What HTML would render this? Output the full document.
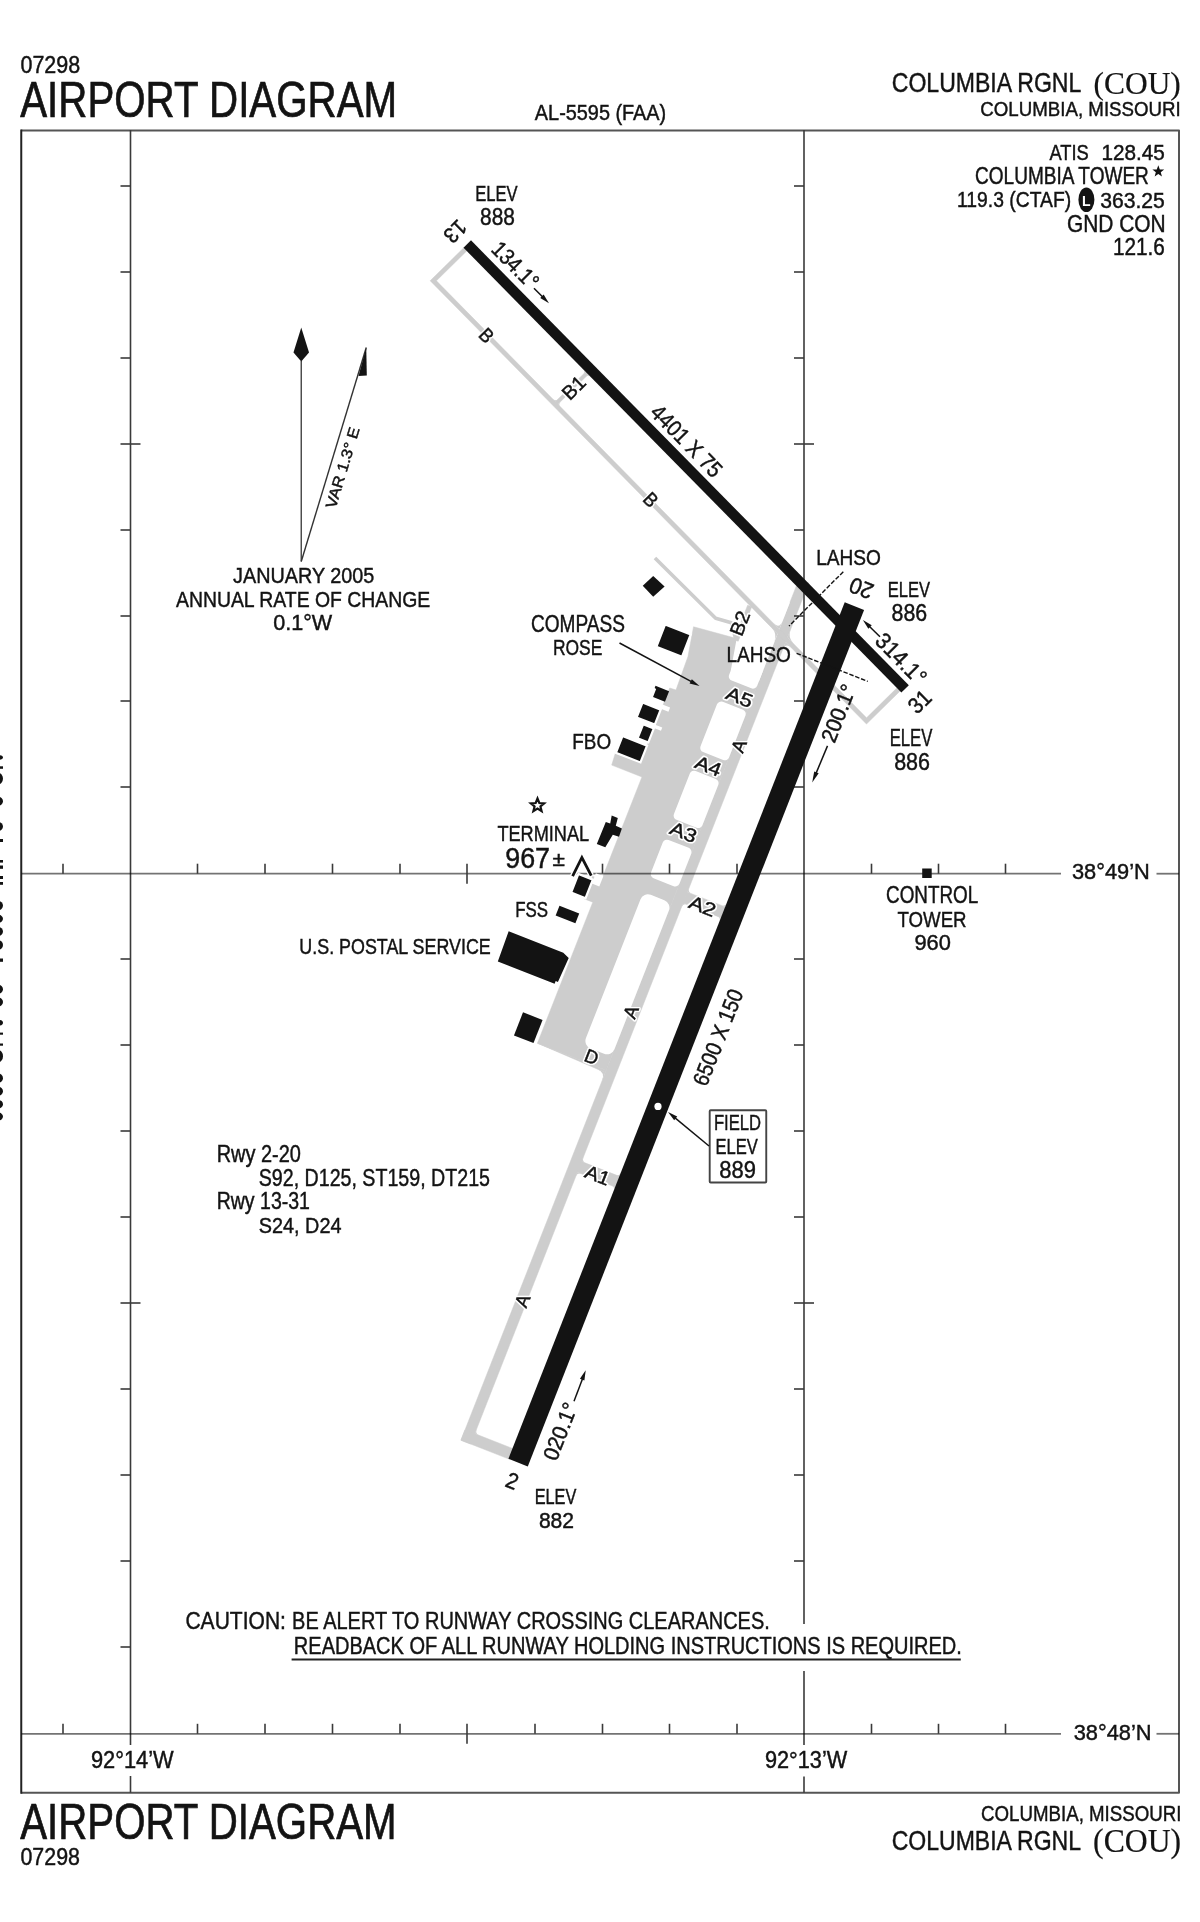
<!DOCTYPE html>
<html><head><meta charset="utf-8"><style>
html,body{margin:0;padding:0;background:#fff;}
svg{display:block;will-change:transform;}
</style></head><body>
<svg width="1200" height="1922" viewBox="0 0 1200 1922">
<rect width="1200" height="1922" fill="#fff"/>
<text x="20.46" y="73.30" font-size="24.13" font-family='"Liberation Sans", sans-serif' textLength="59.77" lengthAdjust="spacingAndGlyphs" fill="#131313" stroke="#131313" stroke-width="0.45" >07298</text>
<text x="20.22" y="116.70" font-size="49.42" font-family='"Liberation Sans", sans-serif' textLength="376.87" lengthAdjust="spacingAndGlyphs" fill="#131313" stroke="#131313" stroke-width="0.7" >AIRPORT DIAGRAM</text>
<text x="534.86" y="120.10" font-size="21.37" font-family='"Liberation Sans", sans-serif' textLength="131.36" lengthAdjust="spacingAndGlyphs" fill="#131313" stroke="#131313" stroke-width="0.45" >AL-5595 (FAA)</text>
<text x="891.74" y="92.10" font-size="27.91" font-family='"Liberation Sans", sans-serif' textLength="189.62" lengthAdjust="spacingAndGlyphs" fill="#131313" stroke="#131313" stroke-width="0.45" >COLUMBIA RGNL</text>
<text x="1093.62" y="93.75" font-size="32.45" font-family='"Liberation Serif", serif' textLength="87.16" lengthAdjust="spacingAndGlyphs" fill="#131313" stroke="#131313" stroke-width="0.2" >(COU)</text>
<text x="980.35" y="115.60" font-size="20.49" font-family='"Liberation Sans", sans-serif' textLength="200.37" lengthAdjust="spacingAndGlyphs" fill="#131313" stroke="#131313" stroke-width="0.45" >COLUMBIA, MISSOURI</text>
<text x="20.22" y="1839.30" font-size="49.42" font-family='"Liberation Sans", sans-serif' textLength="376.37" lengthAdjust="spacingAndGlyphs" fill="#131313" stroke="#131313" stroke-width="0.7" >AIRPORT DIAGRAM</text>
<text x="20.46" y="1865.00" font-size="23.26" font-family='"Liberation Sans", sans-serif' textLength="59.46" lengthAdjust="spacingAndGlyphs" fill="#131313" stroke="#131313" stroke-width="0.45" >07298</text>
<text x="981.05" y="1820.80" font-size="21.51" font-family='"Liberation Sans", sans-serif' textLength="200.37" lengthAdjust="spacingAndGlyphs" fill="#131313" stroke="#131313" stroke-width="0.45" >COLUMBIA, MISSOURI</text>
<text x="891.74" y="1849.60" font-size="28.49" font-family='"Liberation Sans", sans-serif' textLength="189.32" lengthAdjust="spacingAndGlyphs" fill="#131313" stroke="#131313" stroke-width="0.45" >COLUMBIA RGNL</text>
<text x="1093.11" y="1851.50" font-size="32.84" font-family='"Liberation Serif", serif' textLength="87.98" lengthAdjust="spacingAndGlyphs" fill="#131313" stroke="#131313" stroke-width="0.2" >(COU)</text>
<text x="1049.47" y="159.50" font-size="22.53" font-family='"Liberation Sans", sans-serif' textLength="39.35" lengthAdjust="spacingAndGlyphs" fill="#131313" stroke="#131313" stroke-width="0.45" >ATIS</text>
<text x="1101.42" y="159.50" font-size="22.53" font-family='"Liberation Sans", sans-serif' textLength="63.45" lengthAdjust="spacingAndGlyphs" fill="#131313" stroke="#131313" stroke-width="0.45" >128.45</text>
<text x="975.04" y="183.50" font-size="23.26" font-family='"Liberation Sans", sans-serif' textLength="173.83" lengthAdjust="spacingAndGlyphs" fill="#131313" stroke="#131313" stroke-width="0.45" >COLUMBIA TOWER</text>
<text x="957.07" y="207.00" font-size="22.53" font-family='"Liberation Sans", sans-serif' textLength="114.10" lengthAdjust="spacingAndGlyphs" fill="#131313" stroke="#131313" stroke-width="0.45" >119.3 (CTAF)</text>
<text x="1100.19" y="207.50" font-size="22.53" font-family='"Liberation Sans", sans-serif' textLength="64.69" lengthAdjust="spacingAndGlyphs" fill="#131313" stroke="#131313" stroke-width="0.45" >363.25</text>
<text x="1066.95" y="231.50" font-size="23.26" font-family='"Liberation Sans", sans-serif' textLength="98.76" lengthAdjust="spacingAndGlyphs" fill="#131313" stroke="#131313" stroke-width="0.45" >GND CON</text>
<text x="1112.92" y="255.00" font-size="23.26" font-family='"Liberation Sans", sans-serif' textLength="52.00" lengthAdjust="spacingAndGlyphs" fill="#131313" stroke="#131313" stroke-width="0.45" >121.6</text>
<ellipse cx="1086.4" cy="199.8" rx="8" ry="12.3" fill="#131313"/>
<text x="1086.4" y="205.5" font-size="14" font-family='"Liberation Sans", sans-serif' font-weight="bold" fill="#fff" text-anchor="middle">L</text>
<polygon points="1158.30,165.30 1159.83,169.40 1164.20,169.58 1160.77,172.30 1161.94,176.52 1158.30,174.10 1154.66,176.52 1155.83,172.30 1152.40,169.58 1156.77,169.40" fill="#131313" />
<ellipse cx="-2" cy="757.5" rx="5" ry="2.5" fill="#131313"/>
<rect x="0" y="766.3" width="3" height="2.5" fill="#131313"/>
<ellipse cx="-2" cy="778.6" rx="5" ry="5.9" fill="#131313"/>
<ellipse cx="-2" cy="801.3" rx="5" ry="4.7" fill="#131313"/>
<ellipse cx="-2" cy="826.5" rx="5" ry="4.5" fill="#131313"/>
<rect x="0" y="839.0" width="3" height="3.0" fill="#131313"/>
<rect x="0" y="860.0" width="3" height="2.6" fill="#131313"/>
<rect x="0" y="865.5" width="3" height="3.3" fill="#131313"/>
<rect x="0" y="876.0" width="3" height="3.0" fill="#131313"/>
<rect x="0" y="882.0" width="3" height="2.8" fill="#131313"/>
<ellipse cx="-2" cy="905.6" rx="5" ry="4.8" fill="#131313"/>
<ellipse cx="-2" cy="918.8" rx="5" ry="4.0" fill="#131313"/>
<ellipse cx="-2" cy="931.5" rx="5" ry="4.5" fill="#131313"/>
<ellipse cx="-2" cy="945.0" rx="5" ry="5.0" fill="#131313"/>
<rect x="0" y="958.5" width="3" height="3.3" fill="#131313"/>
<ellipse cx="-2" cy="989.3" rx="5" ry="4.6" fill="#131313"/>
<ellipse cx="-2" cy="1002.0" rx="5" ry="4.6" fill="#131313"/>
<ellipse cx="-2" cy="1022.7" rx="5" ry="2.9" fill="#131313"/>
<rect x="0" y="1032.6" width="3" height="2.1" fill="#131313"/>
<rect x="0" y="1043.5" width="3" height="2.2" fill="#131313"/>
<ellipse cx="-2" cy="1056.2" rx="5" ry="6.2" fill="#131313"/>
<ellipse cx="-2" cy="1078.2" rx="5" ry="4.8" fill="#131313"/>
<ellipse cx="-2" cy="1091.3" rx="5" ry="4.7" fill="#131313"/>
<ellipse cx="-2" cy="1104.2" rx="5" ry="4.4" fill="#131313"/>
<ellipse cx="-2" cy="1116.6" rx="5" ry="4.1" fill="#131313"/>
<line x1="301.25" y1="361.00" x2="301.25" y2="561.50" stroke="#444" stroke-width="1.4" />
<polygon points="301.25,327.50 309.00,352.50 301.25,361.50 293.50,352.50" fill="#131313" />
<line x1="301.25" y1="561.50" x2="366.25" y2="347.50" stroke="#333" stroke-width="1.4" />
<polygon points="366.25,347.50 366.80,375.50 358.50,376.00" fill="#131313" />
<g transform="translate(342.50,468.00) rotate(-73.07)"><text x="-41.57" y="5.25" font-size="15.26" font-family='"Liberation Sans", sans-serif' textLength="83.78" lengthAdjust="spacingAndGlyphs" fill="#131313" stroke="#131313" stroke-width="0.45">VAR 1.3° E</text></g>
<text x="233.09" y="582.75" font-size="22.89" font-family='"Liberation Sans", sans-serif' textLength="141.23" lengthAdjust="spacingAndGlyphs" fill="#131313" stroke="#131313" stroke-width="0.45" >JANUARY 2005</text>
<text x="175.96" y="606.60" font-size="22.82" font-family='"Liberation Sans", sans-serif' textLength="254.36" lengthAdjust="spacingAndGlyphs" fill="#131313" stroke="#131313" stroke-width="0.45" >ANNUAL RATE OF CHANGE</text>
<text x="273.16" y="630.40" font-size="22.82" font-family='"Liberation Sans", sans-serif' textLength="59.02" lengthAdjust="spacingAndGlyphs" fill="#131313" stroke="#131313" stroke-width="0.45" >0.1°W</text>
<polygon points="460.95,1440.21 799.00,579.20 808.77,583.03 470.72,1444.05" fill="#cdcdcd"  stroke="#cdcdcd" stroke-width="0.5" stroke-linejoin="round"/>
<polygon points="460.95,1440.21 465.04,1429.79 513.82,1448.94 509.72,1459.36" fill="#cdcdcd"  stroke="#cdcdcd" stroke-width="0.5" stroke-linejoin="round"/>
<path d="M474.81,1433.62 L476.64,1428.97 Q474.81,1433.62 479.47,1435.45 Z" fill="#cdcdcd"/>
<polygon points="537.43,1043.20 592.80,902.18 583.77,898.63 592.54,876.29 601.57,879.84 641.95,776.98 611.70,765.11 615.52,752.64 622.47,736.03 647.05,745.68 669.70,687.97 675.99,690.01 687.98,656.47 693.53,626.74 736.70,638.53 770.49,651.80 606.22,1070.21" fill="#cdcdcd"  stroke="#cdcdcd" stroke-width="0.5" stroke-linejoin="round"/>
<polygon points="537.43,1043.20 605.30,1072.53 606.22,1070.21" fill="#cdcdcd"  stroke="#cdcdcd" stroke-width="0.5" stroke-linejoin="round"/>
<path d="M605.38,1072.35 L602.09,1080.73 Q605.38,1072.35 597.00,1069.06 Z" fill="#cdcdcd"/>
<rect x="-12.00" y="-15.05" width="24.00" height="30.10" rx="4.5" fill="#fff" transform="translate(745.89,673.29) rotate(-68.56)"/>
<polygon points="730.78,670.59 736.70,638.53 756.07,589.20 789.86,602.47 758.80,681.59" fill="#fff" />
<rect x="-27.00" y="-15.30" width="54.00" height="30.60" rx="4.5" fill="#fff" transform="translate(723.00,730.91) rotate(-68.56)"/>
<rect x="-26.25" y="-15.30" width="52.50" height="30.60" rx="4.5" fill="#fff" transform="translate(696.12,799.38) rotate(-68.56)"/>
<rect x="-20.55" y="-15.30" width="41.10" height="30.60" rx="4.5" fill="#fff" transform="translate(671.12,863.05) rotate(-68.56)"/>
<rect x="-82.50" y="-15.30" width="165.00" height="30.60" rx="8" fill="#fff" transform="translate(627.43,974.33) rotate(-68.56)"/>
<polygon points="647.52,703.43 649.16,699.24 670.11,707.46 668.46,711.65" fill="#fff" />
<polygon points="637.23,721.42 638.51,718.16 662.25,727.48 660.97,730.73" fill="#fff" />
<polygon points="682.74,902.68 686.97,891.89 726.44,907.38 722.20,918.18" fill="#cdcdcd"  stroke="#cdcdcd" stroke-width="0.5" stroke-linejoin="round"/>
<path d="M687.44,892.07 L689.27,887.41 Q687.44,892.07 692.09,893.90 Z" fill="#cdcdcd"/>
<path d="M683.20,902.87 L681.37,907.52 Q683.20,902.87 687.85,904.69 Z" fill="#cdcdcd"/>
<path d="M725.14,906.87 L726.60,903.15 Q725.14,906.87 721.42,905.41 Z" fill="#cdcdcd"/>
<path d="M720.90,917.67 L719.44,921.39 Q720.90,917.67 717.18,916.21 Z" fill="#cdcdcd"/>
<polygon points="576.97,1172.06 581.17,1161.36 620.64,1176.86 616.44,1187.56" fill="#cdcdcd"  stroke="#cdcdcd" stroke-width="0.5" stroke-linejoin="round"/>
<path d="M581.64,1161.54 L583.47,1156.89 Q581.64,1161.54 586.29,1163.37 Z" fill="#cdcdcd"/>
<path d="M577.44,1172.25 L575.61,1176.90 Q577.44,1172.25 582.09,1174.07 Z" fill="#cdcdcd"/>
<path d="M619.34,1176.34 L620.80,1172.62 Q619.34,1176.34 615.61,1174.88 Z" fill="#cdcdcd"/>
<path d="M615.13,1187.05 L613.67,1190.77 Q615.13,1187.05 611.41,1185.59 Z" fill="#cdcdcd"/>
<polygon points="734.11,639.67 747.63,605.22 751.73,606.83 738.21,641.27" fill="#cdcdcd"  stroke="#cdcdcd" stroke-width="0.5" stroke-linejoin="round"/>
<polygon points="463.83,247.65 430.19,280.76 866.48,724.08 900.12,690.97 897.03,687.83 866.53,717.85 436.41,280.81 466.91,250.79" fill="#cdcdcd"  stroke="#cdcdcd" stroke-width="0.5" stroke-linejoin="round"/>
<polygon points="585.88,371.66 588.40,374.23 556.33,405.80 553.80,403.23" fill="#cdcdcd"  stroke="#cdcdcd" stroke-width="0.5" stroke-linejoin="round"/>
<path d="M557.90,404.25 L560.70,407.10 Q557.90,404.25 560.75,401.45 Z" fill="#cdcdcd"/>
<path d="M555.37,401.69 L552.57,398.84 Q555.37,401.69 558.22,398.88 Z" fill="#cdcdcd"/>
<path d="M588.19,374.44 L590.64,376.94 Q588.19,374.44 585.69,376.90 Z" fill="#cdcdcd"/>
<path d="M585.66,371.88 L583.21,369.38 Q585.66,371.88 583.17,374.33 Z" fill="#cdcdcd"/>
<polyline points="654.96,558.05 715.65,618.29 731.30,622.70 736.16,640.47" fill="none" stroke="#cdcdcd" stroke-width="3.6" stroke-linejoin="round"/>
<path d="M779.34,629.26 L782.63,620.89 Q779.34,629.26 773.03,622.85 Z" fill="#cdcdcd"/>
<path d="M777.58,633.75 L774.29,642.12 Q777.58,633.75 771.27,627.33 Z" fill="#cdcdcd"/>
<path d="M787.41,637.46 L790.70,629.08 Q787.41,637.46 793.72,643.87 Z" fill="#cdcdcd"/>
<path d="M785.65,641.94 L782.36,650.32 Q785.65,641.94 791.96,648.36 Z" fill="#cdcdcd"/>
<path d="M21.25,130.4 H1179 V1792.75 H21.25" fill="none" stroke="#555" stroke-width="2" stroke-linejoin="round"/>
<line x1="21.25" y1="129.4" x2="21.25" y2="1793.75" stroke="#222" stroke-width="2"/>
<line x1="130.50" y1="130.00" x2="130.50" y2="1745.00" stroke="#3a3a3a" stroke-width="1.6" />
<line x1="130.50" y1="1776.00" x2="130.50" y2="1792.75" stroke="#3a3a3a" stroke-width="1.6" />
<line x1="804.00" y1="130.00" x2="804.00" y2="1624.00" stroke="#3a3a3a" stroke-width="1.6" />
<line x1="804.00" y1="1671.00" x2="804.00" y2="1745.00" stroke="#3a3a3a" stroke-width="1.6" />
<line x1="804.00" y1="1776.50" x2="804.00" y2="1792.75" stroke="#3a3a3a" stroke-width="1.6" />
<line x1="120.50" y1="186.00" x2="130.50" y2="186.00" stroke="#3a3a3a" stroke-width="1.6" />
<line x1="120.50" y1="272.00" x2="130.50" y2="272.00" stroke="#3a3a3a" stroke-width="1.6" />
<line x1="120.50" y1="358.00" x2="130.50" y2="358.00" stroke="#3a3a3a" stroke-width="1.6" />
<line x1="120.50" y1="444.00" x2="140.50" y2="444.00" stroke="#3a3a3a" stroke-width="1.6" />
<line x1="120.50" y1="530.00" x2="130.50" y2="530.00" stroke="#3a3a3a" stroke-width="1.6" />
<line x1="120.50" y1="616.00" x2="130.50" y2="616.00" stroke="#3a3a3a" stroke-width="1.6" />
<line x1="120.50" y1="701.00" x2="130.50" y2="701.00" stroke="#3a3a3a" stroke-width="1.6" />
<line x1="120.50" y1="787.00" x2="130.50" y2="787.00" stroke="#3a3a3a" stroke-width="1.6" />
<line x1="120.50" y1="959.00" x2="130.50" y2="959.00" stroke="#3a3a3a" stroke-width="1.6" />
<line x1="120.50" y1="1045.00" x2="130.50" y2="1045.00" stroke="#3a3a3a" stroke-width="1.6" />
<line x1="120.50" y1="1131.00" x2="130.50" y2="1131.00" stroke="#3a3a3a" stroke-width="1.6" />
<line x1="120.50" y1="1217.00" x2="130.50" y2="1217.00" stroke="#3a3a3a" stroke-width="1.6" />
<line x1="120.50" y1="1303.00" x2="140.50" y2="1303.00" stroke="#3a3a3a" stroke-width="1.6" />
<line x1="120.50" y1="1389.00" x2="130.50" y2="1389.00" stroke="#3a3a3a" stroke-width="1.6" />
<line x1="120.50" y1="1475.00" x2="130.50" y2="1475.00" stroke="#3a3a3a" stroke-width="1.6" />
<line x1="120.50" y1="1561.00" x2="130.50" y2="1561.00" stroke="#3a3a3a" stroke-width="1.6" />
<line x1="120.50" y1="1647.00" x2="130.50" y2="1647.00" stroke="#3a3a3a" stroke-width="1.6" />
<line x1="794.00" y1="186.00" x2="804.00" y2="186.00" stroke="#3a3a3a" stroke-width="1.6" />
<line x1="794.00" y1="272.00" x2="804.00" y2="272.00" stroke="#3a3a3a" stroke-width="1.6" />
<line x1="794.00" y1="358.00" x2="804.00" y2="358.00" stroke="#3a3a3a" stroke-width="1.6" />
<line x1="794.00" y1="444.00" x2="814.00" y2="444.00" stroke="#3a3a3a" stroke-width="1.6" />
<line x1="794.00" y1="530.00" x2="804.00" y2="530.00" stroke="#3a3a3a" stroke-width="1.6" />
<line x1="794.00" y1="616.00" x2="804.00" y2="616.00" stroke="#3a3a3a" stroke-width="1.6" />
<line x1="794.00" y1="701.00" x2="804.00" y2="701.00" stroke="#3a3a3a" stroke-width="1.6" />
<line x1="794.00" y1="787.00" x2="804.00" y2="787.00" stroke="#3a3a3a" stroke-width="1.6" />
<line x1="794.00" y1="959.00" x2="804.00" y2="959.00" stroke="#3a3a3a" stroke-width="1.6" />
<line x1="794.00" y1="1045.00" x2="804.00" y2="1045.00" stroke="#3a3a3a" stroke-width="1.6" />
<line x1="794.00" y1="1131.00" x2="804.00" y2="1131.00" stroke="#3a3a3a" stroke-width="1.6" />
<line x1="794.00" y1="1217.00" x2="804.00" y2="1217.00" stroke="#3a3a3a" stroke-width="1.6" />
<line x1="794.00" y1="1303.00" x2="814.00" y2="1303.00" stroke="#3a3a3a" stroke-width="1.6" />
<line x1="794.00" y1="1389.00" x2="804.00" y2="1389.00" stroke="#3a3a3a" stroke-width="1.6" />
<line x1="794.00" y1="1475.00" x2="804.00" y2="1475.00" stroke="#3a3a3a" stroke-width="1.6" />
<line x1="794.00" y1="1561.00" x2="804.00" y2="1561.00" stroke="#3a3a3a" stroke-width="1.6" />
<line x1="21.50" y1="873.70" x2="1061.00" y2="873.70" stroke="rgba(0,0,0,0.55)" stroke-width="1.8" />
<line x1="1156.50" y1="873.70" x2="1179.00" y2="873.70" stroke="rgba(0,0,0,0.55)" stroke-width="1.8" />
<line x1="63.00" y1="863.70" x2="63.00" y2="873.70" stroke="#3a3a3a" stroke-width="1.6" />
<line x1="197.50" y1="863.70" x2="197.50" y2="873.70" stroke="#3a3a3a" stroke-width="1.6" />
<line x1="265.00" y1="863.70" x2="265.00" y2="873.70" stroke="#3a3a3a" stroke-width="1.6" />
<line x1="332.50" y1="863.70" x2="332.50" y2="873.70" stroke="#3a3a3a" stroke-width="1.6" />
<line x1="400.00" y1="863.70" x2="400.00" y2="873.70" stroke="#3a3a3a" stroke-width="1.6" />
<line x1="467.00" y1="863.70" x2="467.00" y2="883.70" stroke="#3a3a3a" stroke-width="1.6" />
<line x1="602.50" y1="863.70" x2="602.50" y2="873.70" stroke="#3a3a3a" stroke-width="1.6" />
<line x1="669.50" y1="863.70" x2="669.50" y2="873.70" stroke="#3a3a3a" stroke-width="1.6" />
<line x1="737.00" y1="863.70" x2="737.00" y2="873.70" stroke="#3a3a3a" stroke-width="1.6" />
<line x1="871.50" y1="863.70" x2="871.50" y2="873.70" stroke="#3a3a3a" stroke-width="1.6" />
<line x1="938.50" y1="863.70" x2="938.50" y2="873.70" stroke="#3a3a3a" stroke-width="1.6" />
<line x1="1005.50" y1="863.70" x2="1005.50" y2="873.70" stroke="#3a3a3a" stroke-width="1.6" />
<text x="1071.92" y="878.90" font-size="22.82" font-family='"Liberation Sans", sans-serif' textLength="77.86" lengthAdjust="spacingAndGlyphs" fill="#131313" stroke="#131313" stroke-width="0.45" >38°49’N</text>
<line x1="21.50" y1="1733.80" x2="1061.00" y2="1733.80" stroke="rgba(0,0,0,0.55)" stroke-width="1.8" />
<line x1="1156.50" y1="1733.80" x2="1179.00" y2="1733.80" stroke="rgba(0,0,0,0.55)" stroke-width="1.8" />
<line x1="63.00" y1="1723.80" x2="63.00" y2="1733.80" stroke="#3a3a3a" stroke-width="1.6" />
<line x1="197.50" y1="1723.80" x2="197.50" y2="1733.80" stroke="#3a3a3a" stroke-width="1.6" />
<line x1="265.00" y1="1723.80" x2="265.00" y2="1733.80" stroke="#3a3a3a" stroke-width="1.6" />
<line x1="332.50" y1="1723.80" x2="332.50" y2="1733.80" stroke="#3a3a3a" stroke-width="1.6" />
<line x1="400.00" y1="1723.80" x2="400.00" y2="1733.80" stroke="#3a3a3a" stroke-width="1.6" />
<line x1="467.00" y1="1723.80" x2="467.00" y2="1743.80" stroke="#3a3a3a" stroke-width="1.6" />
<line x1="535.00" y1="1723.80" x2="535.00" y2="1733.80" stroke="#3a3a3a" stroke-width="1.6" />
<line x1="602.50" y1="1723.80" x2="602.50" y2="1733.80" stroke="#3a3a3a" stroke-width="1.6" />
<line x1="669.50" y1="1723.80" x2="669.50" y2="1733.80" stroke="#3a3a3a" stroke-width="1.6" />
<line x1="737.00" y1="1723.80" x2="737.00" y2="1733.80" stroke="#3a3a3a" stroke-width="1.6" />
<line x1="871.50" y1="1723.80" x2="871.50" y2="1733.80" stroke="#3a3a3a" stroke-width="1.6" />
<line x1="938.50" y1="1723.80" x2="938.50" y2="1733.80" stroke="#3a3a3a" stroke-width="1.6" />
<line x1="1005.50" y1="1723.80" x2="1005.50" y2="1733.80" stroke="#3a3a3a" stroke-width="1.6" />
<text x="1073.67" y="1740.10" font-size="22.97" font-family='"Liberation Sans", sans-serif' textLength="77.91" lengthAdjust="spacingAndGlyphs" fill="#131313" stroke="#131313" stroke-width="0.45" >38°48’N</text>
<text x="90.88" y="1768.20" font-size="23.55" font-family='"Liberation Sans", sans-serif' textLength="82.80" lengthAdjust="spacingAndGlyphs" fill="#131313" stroke="#131313" stroke-width="0.45" >92°14’W</text>
<text x="764.98" y="1768.00" font-size="23.40" font-family='"Liberation Sans", sans-serif' textLength="82.29" lengthAdjust="spacingAndGlyphs" fill="#131313" stroke="#131313" stroke-width="0.45" >92°13’W</text>
<polygon points="463.51,247.68 901.36,692.58 908.84,685.22 470.99,240.32" fill="#131313" />
<polygon points="527.78,1466.45 864.08,609.90 844.72,602.30 508.42,1458.85" fill="#131313" />
<circle cx="658" cy="1106.4" r="3.6" fill="#fff"/>
<polygon points="591.84,883.54 595.86,873.30 603.31,876.23 599.29,886.47" fill="#fff" />
<polygon points="653.20,576.10 664.60,586.60 653.20,596.70 642.75,585.70" fill="#131313" />
<polygon points="656.35,646.73 665.12,624.40 690.72,634.45 681.95,656.79" fill="#131313" stroke="#fff" stroke-width="2.2" stroke-linejoin="miter"/>
<polygon points="653.05,697.01 664.96,701.68 669.09,691.17 655.50,685.83 654.66,687.97 656.16,689.09" fill="#131313" />
<polygon points="636.65,717.43 642.50,702.53 660.65,709.66 654.80,724.55" fill="#131313" stroke="#fff" stroke-width="2.2" stroke-linejoin="miter"/>
<polygon points="637.62,738.22 643.10,724.26 653.81,728.46 648.32,742.42" fill="#131313" stroke="#fff" stroke-width="2.2" stroke-linejoin="miter"/>
<polygon points="615.89,752.79 622.47,736.03 647.05,745.68 640.47,762.43" fill="#131313" stroke="#fff" stroke-width="2.2" stroke-linejoin="miter"/>
<polygon points="596.80,844.10 605.80,821.90 610.20,823.40 611.70,815.50 617.80,818.10 615.80,825.70 621.90,828.60 619.00,836.80 612.80,834.80 605.30,847.30" fill="#131313" />
<polygon points="571.10,892.59 578.41,873.97 592.84,879.64 585.53,898.25" fill="#131313" stroke="#fff" stroke-width="2.2" stroke-linejoin="miter"/>
<polygon points="555.65,915.53 559.49,905.75 579.22,913.50 575.38,923.27" fill="#131313" />
<polygon points="497.82,961.58 508.66,931.24 563.30,952.69 568.72,958.04 557.93,981.96 555.70,981.08 554.60,983.87" fill="#131313" />
<polygon points="513.96,1035.38 523.03,1012.30 542.57,1019.97 533.51,1043.06" fill="#131313" />
<rect x="922.2" y="868.5" width="9.5" height="9.5" fill="#131313"/>
<polyline points="572.60,876.20 581.90,857.50 591.25,875.60" fill="none" stroke="#fff" stroke-width="5.5" stroke-linejoin="miter"/>
<polyline points="572.60,876.20 581.90,857.50 591.25,875.60" fill="none" stroke="#131313" stroke-width="2.8" stroke-linejoin="miter"/>
<polygon points="537.50,798.50 539.32,802.99 544.16,803.34 540.45,806.46 541.61,811.16 537.50,808.60 533.39,811.16 534.55,806.46 530.84,803.34 535.68,802.99" fill="none" stroke="#131313" stroke-width="2.2" stroke-linejoin="miter"/>
<text x="475.14" y="200.50" font-size="22.53" font-family='"Liberation Sans", sans-serif' textLength="42.43" lengthAdjust="spacingAndGlyphs" fill="#131313" stroke="#131313" stroke-width="0.45" >ELEV</text>
<text x="480.09" y="224.50" font-size="23.26" font-family='"Liberation Sans", sans-serif' textLength="34.81" lengthAdjust="spacingAndGlyphs" fill="#131313" stroke="#131313" stroke-width="0.45" >888</text>
<text x="887.85" y="597.00" font-size="22.89" font-family='"Liberation Sans", sans-serif' textLength="42.23" lengthAdjust="spacingAndGlyphs" fill="#131313" stroke="#131313" stroke-width="0.45" >ELEV</text>
<text x="891.57" y="620.80" font-size="23.55" font-family='"Liberation Sans", sans-serif' textLength="35.62" lengthAdjust="spacingAndGlyphs" fill="#131313" stroke="#131313" stroke-width="0.45" >886</text>
<text x="889.63" y="745.70" font-size="23.40" font-family='"Liberation Sans", sans-serif' textLength="42.74" lengthAdjust="spacingAndGlyphs" fill="#131313" stroke="#131313" stroke-width="0.45" >ELEV</text>
<text x="894.17" y="770.00" font-size="24.71" font-family='"Liberation Sans", sans-serif' textLength="35.88" lengthAdjust="spacingAndGlyphs" fill="#131313" stroke="#131313" stroke-width="0.45" >886</text>
<text x="534.66" y="1503.70" font-size="21.80" font-family='"Liberation Sans", sans-serif' textLength="41.71" lengthAdjust="spacingAndGlyphs" fill="#131313" stroke="#131313" stroke-width="0.45" >ELEV</text>
<text x="538.88" y="1527.60" font-size="22.38" font-family='"Liberation Sans", sans-serif' textLength="35.18" lengthAdjust="spacingAndGlyphs" fill="#131313" stroke="#131313" stroke-width="0.45" >882</text>
<text x="816.13" y="564.70" font-size="22.82" font-family='"Liberation Sans", sans-serif' textLength="64.78" lengthAdjust="spacingAndGlyphs" fill="#131313" stroke="#131313" stroke-width="0.45" >LAHSO</text>
<text x="726.44" y="661.70" font-size="22.82" font-family='"Liberation Sans", sans-serif' textLength="64.47" lengthAdjust="spacingAndGlyphs" fill="#131313" stroke="#131313" stroke-width="0.45" >LAHSO</text>
<text x="530.95" y="631.60" font-size="23.98" font-family='"Liberation Sans", sans-serif' textLength="94.02" lengthAdjust="spacingAndGlyphs" fill="#131313" stroke="#131313" stroke-width="0.45" >COMPASS</text>
<text x="552.97" y="655.00" font-size="22.67" font-family='"Liberation Sans", sans-serif' textLength="49.38" lengthAdjust="spacingAndGlyphs" fill="#131313" stroke="#131313" stroke-width="0.45" >ROSE</text>
<text x="572.35" y="748.60" font-size="22.97" font-family='"Liberation Sans", sans-serif' textLength="38.75" lengthAdjust="spacingAndGlyphs" fill="#131313" stroke="#131313" stroke-width="0.45" >FBO</text>
<text x="497.39" y="840.70" font-size="22.67" font-family='"Liberation Sans", sans-serif' textLength="91.81" lengthAdjust="spacingAndGlyphs" fill="#131313" stroke="#131313" stroke-width="0.45" >TERMINAL</text>
<text x="505.24" y="868.20" font-size="28.63" font-family='"Liberation Sans", sans-serif' textLength="44.81" lengthAdjust="spacingAndGlyphs" fill="#131313" stroke="#131313" stroke-width="0.45" >967</text>
<text x="552.58" y="866.20" font-size="19.77" font-family='"Liberation Sans", sans-serif' textLength="12.43" lengthAdjust="spacingAndGlyphs" fill="#131313" stroke="#131313" stroke-width="0.45" >±</text>
<text x="515.21" y="917.30" font-size="22.67" font-family='"Liberation Sans", sans-serif' textLength="32.86" lengthAdjust="spacingAndGlyphs" fill="#131313" stroke="#131313" stroke-width="0.45" >FSS</text>
<text x="299.34" y="954.00" font-size="22.09" font-family='"Liberation Sans", sans-serif' textLength="191.42" lengthAdjust="spacingAndGlyphs" fill="#131313" stroke="#131313" stroke-width="0.45" >U.S. POSTAL SERVICE</text>
<text x="886.04" y="903.20" font-size="23.55" font-family='"Liberation Sans", sans-serif' textLength="92.18" lengthAdjust="spacingAndGlyphs" fill="#131313" stroke="#131313" stroke-width="0.45" >CONTROL</text>
<text x="897.48" y="926.80" font-size="22.82" font-family='"Liberation Sans", sans-serif' textLength="69.08" lengthAdjust="spacingAndGlyphs" fill="#131313" stroke="#131313" stroke-width="0.45" >TOWER</text>
<text x="914.38" y="950.40" font-size="22.82" font-family='"Liberation Sans", sans-serif' textLength="36.48" lengthAdjust="spacingAndGlyphs" fill="#131313" stroke="#131313" stroke-width="0.45" >960</text>
<text x="713.93" y="1130.00" font-size="22.67" font-family='"Liberation Sans", sans-serif' textLength="47.16" lengthAdjust="spacingAndGlyphs" fill="#131313" stroke="#131313" stroke-width="0.45" >FIELD</text>
<text x="715.54" y="1153.75" font-size="22.31" font-family='"Liberation Sans", sans-serif' textLength="42.33" lengthAdjust="spacingAndGlyphs" fill="#131313" stroke="#131313" stroke-width="0.45" >ELEV</text>
<text x="719.34" y="1177.80" font-size="24.56" font-family='"Liberation Sans", sans-serif' textLength="36.70" lengthAdjust="spacingAndGlyphs" fill="#131313" stroke="#131313" stroke-width="0.45" >889</text>
<rect x="709.7" y="1110.3" width="56.55" height="72.2" rx="1" fill="none" stroke="#444" stroke-width="1.9"/>
<text x="216.66" y="1162.10" font-size="23.69" font-family='"Liberation Sans", sans-serif' textLength="84.32" lengthAdjust="spacingAndGlyphs" fill="#131313" stroke="#131313" stroke-width="0.45" >Rwy 2-20</text>
<text x="258.71" y="1185.80" font-size="24.13" font-family='"Liberation Sans", sans-serif' textLength="231.32" lengthAdjust="spacingAndGlyphs" fill="#131313" stroke="#131313" stroke-width="0.45" >S92, D125, ST159, DT215</text>
<text x="216.70" y="1209.20" font-size="23.11" font-family='"Liberation Sans", sans-serif' textLength="93.25" lengthAdjust="spacingAndGlyphs" fill="#131313" stroke="#131313" stroke-width="0.45" >Rwy 13-31</text>
<text x="258.70" y="1232.90" font-size="22.97" font-family='"Liberation Sans", sans-serif' textLength="82.78" lengthAdjust="spacingAndGlyphs" fill="#131313" stroke="#131313" stroke-width="0.45" >S24, D24</text>
<text x="185.43" y="1628.90" font-size="24.56" font-family='"Liberation Sans", sans-serif' textLength="100.49" lengthAdjust="spacingAndGlyphs" fill="#131313" stroke="#131313" stroke-width="0.45" >CAUTION:</text>
<text x="292.08" y="1628.90" font-size="24.56" font-family='"Liberation Sans", sans-serif' textLength="477.73" lengthAdjust="spacingAndGlyphs" fill="#131313" stroke="#131313" stroke-width="0.45" >BE ALERT TO RUNWAY CROSSING CLEARANCES.</text>
<text x="293.87" y="1654.00" font-size="23.69" font-family='"Liberation Sans", sans-serif' textLength="667.94" lengthAdjust="spacingAndGlyphs" fill="#131313" stroke="#131313" stroke-width="0.45" >READBACK OF ALL RUNWAY HOLDING INSTRUCTIONS IS REQUIRED.</text>
<line x1="291.60" y1="1659.50" x2="960.80" y2="1659.50" stroke="#222" stroke-width="1.8" />
<g transform="translate(455.00,231.60) rotate(135.50)"><text x="-11.54" y="7.50" font-size="21.80" font-family='"Liberation Sans", sans-serif' textLength="22.42" lengthAdjust="spacingAndGlyphs" fill="#131313" stroke="#131313" stroke-width="0.45">13</text></g>
<g transform="translate(515.60,265.40) rotate(45.46)"><text x="-28.49" y="7.75" font-size="22.53" font-family='"Liberation Sans", sans-serif' textLength="56.66" lengthAdjust="spacingAndGlyphs" fill="#131313" stroke="#131313" stroke-width="0.45">134.1°</text></g>
<g transform="translate(686.50,440.75) rotate(45.46)"><text x="-45.46" y="7.75" font-size="22.53" font-family='"Liberation Sans", sans-serif' textLength="91.30" lengthAdjust="spacingAndGlyphs" fill="#131313" stroke="#131313" stroke-width="0.45">4401 X 75</text></g>
<g transform="translate(574.00,387.50) rotate(-44.50)"><text x="-12.65" y="6.75" font-size="19.62" font-family='"Liberation Sans", sans-serif' textLength="24.64" lengthAdjust="spacingAndGlyphs" fill="#fff" stroke="#fff" stroke-width="3.5" stroke-linejoin="round">B1</text></g>
<g transform="translate(574.00,387.50) rotate(-44.50)"><text x="-12.65" y="6.75" font-size="19.62" font-family='"Liberation Sans", sans-serif' textLength="24.64" lengthAdjust="spacingAndGlyphs" fill="#131313" stroke="#131313" stroke-width="0.45">B1</text></g>
<g transform="translate(486.70,335.70) rotate(45.46)"><text x="-6.21" y="6.75" font-size="19.62" font-family='"Liberation Sans", sans-serif' textLength="11.91" lengthAdjust="spacingAndGlyphs" fill="#fff" stroke="#fff" stroke-width="3.5" stroke-linejoin="round">B</text></g>
<g transform="translate(486.70,335.70) rotate(45.46)"><text x="-6.21" y="6.75" font-size="19.62" font-family='"Liberation Sans", sans-serif' textLength="11.91" lengthAdjust="spacingAndGlyphs" fill="#131313" stroke="#131313" stroke-width="0.45">B</text></g>
<g transform="translate(651.00,500.00) rotate(45.46)"><text x="-6.21" y="6.75" font-size="19.62" font-family='"Liberation Sans", sans-serif' textLength="11.91" lengthAdjust="spacingAndGlyphs" fill="#fff" stroke="#fff" stroke-width="3.5" stroke-linejoin="round">B</text></g>
<g transform="translate(651.00,500.00) rotate(45.46)"><text x="-6.21" y="6.75" font-size="19.62" font-family='"Liberation Sans", sans-serif' textLength="11.91" lengthAdjust="spacingAndGlyphs" fill="#131313" stroke="#131313" stroke-width="0.45">B</text></g>
<g transform="translate(740.00,623.00) rotate(-68.56)"><text x="-12.65" y="6.75" font-size="19.62" font-family='"Liberation Sans", sans-serif' textLength="24.67" lengthAdjust="spacingAndGlyphs" fill="#fff" stroke="#fff" stroke-width="3.5" stroke-linejoin="round">B2</text></g>
<g transform="translate(740.00,623.00) rotate(-68.56)"><text x="-12.65" y="6.75" font-size="19.62" font-family='"Liberation Sans", sans-serif' textLength="24.67" lengthAdjust="spacingAndGlyphs" fill="#131313" stroke="#131313" stroke-width="0.45">B2</text></g>
<g transform="translate(861.25,588.10) rotate(-158.60)"><text x="-12.08" y="7.75" font-size="22.53" font-family='"Liberation Sans", sans-serif' textLength="23.92" lengthAdjust="spacingAndGlyphs" fill="#131313" stroke="#131313" stroke-width="0.45">20</text></g>
<g transform="translate(901.00,658.50) rotate(45.46)"><text x="-30.81" y="7.75" font-size="22.53" font-family='"Liberation Sans", sans-serif' textLength="62.10" lengthAdjust="spacingAndGlyphs" fill="#131313" stroke="#131313" stroke-width="0.45">314.1°</text></g>
<g transform="translate(919.60,701.70) rotate(-44.50)"><text x="-11.28" y="7.75" font-size="22.53" font-family='"Liberation Sans", sans-serif' textLength="22.78" lengthAdjust="spacingAndGlyphs" fill="#131313" stroke="#131313" stroke-width="0.45">31</text></g>
<g transform="translate(838.50,713.40) rotate(-68.56)"><text x="-30.04" y="7.50" font-size="21.80" font-family='"Liberation Sans", sans-serif' textLength="60.29" lengthAdjust="spacingAndGlyphs" fill="#131313" stroke="#131313" stroke-width="0.45">200.1°</text></g>
<g transform="translate(560.30,1431.60) rotate(-68.56)"><text x="-29.81" y="7.50" font-size="21.80" font-family='"Liberation Sans", sans-serif' textLength="60.05" lengthAdjust="spacingAndGlyphs" fill="#131313" stroke="#131313" stroke-width="0.45">020.1°</text></g>
<g transform="translate(512.20,1480.80) rotate(21.40)"><text x="-5.80" y="7.75" font-size="22.53" font-family='"Liberation Sans", sans-serif' textLength="11.60" lengthAdjust="spacingAndGlyphs" fill="#131313" stroke="#131313" stroke-width="0.45">2</text></g>
<g transform="translate(718.00,1037.30) rotate(-68.56)"><text x="-51.01" y="7.70" font-size="22.38" font-family='"Liberation Sans", sans-serif' textLength="101.79" lengthAdjust="spacingAndGlyphs" fill="#131313" stroke="#131313" stroke-width="0.45">6500 X 150</text></g>
<g transform="translate(739.00,697.00) rotate(21.50)"><text x="-13.04" y="6.50" font-size="18.90" font-family='"Liberation Sans", sans-serif' textLength="26.97" lengthAdjust="spacingAndGlyphs" fill="#fff" stroke="#fff" stroke-width="3.5" stroke-linejoin="round">A5</text></g>
<g transform="translate(739.00,697.00) rotate(21.50)"><text x="-13.04" y="6.50" font-size="18.90" font-family='"Liberation Sans", sans-serif' textLength="26.97" lengthAdjust="spacingAndGlyphs" fill="#131313" stroke="#131313" stroke-width="0.45">A5</text></g>
<g transform="translate(708.00,766.00) rotate(21.50)"><text x="-13.04" y="6.50" font-size="18.90" font-family='"Liberation Sans", sans-serif' textLength="26.68" lengthAdjust="spacingAndGlyphs" fill="#fff" stroke="#fff" stroke-width="3.5" stroke-linejoin="round">A4</text></g>
<g transform="translate(708.00,766.00) rotate(21.50)"><text x="-13.04" y="6.50" font-size="18.90" font-family='"Liberation Sans", sans-serif' textLength="26.68" lengthAdjust="spacingAndGlyphs" fill="#131313" stroke="#131313" stroke-width="0.45">A4</text></g>
<g transform="translate(683.00,832.00) rotate(21.50)"><text x="-13.04" y="6.50" font-size="18.90" font-family='"Liberation Sans", sans-serif' textLength="27.01" lengthAdjust="spacingAndGlyphs" fill="#fff" stroke="#fff" stroke-width="3.5" stroke-linejoin="round">A3</text></g>
<g transform="translate(683.00,832.00) rotate(21.50)"><text x="-13.04" y="6.50" font-size="18.90" font-family='"Liberation Sans", sans-serif' textLength="27.01" lengthAdjust="spacingAndGlyphs" fill="#131313" stroke="#131313" stroke-width="0.45">A3</text></g>
<g transform="translate(702.00,906.00) rotate(21.50)"><text x="-13.04" y="6.50" font-size="18.90" font-family='"Liberation Sans", sans-serif' textLength="27.16" lengthAdjust="spacingAndGlyphs" fill="#fff" stroke="#fff" stroke-width="3.5" stroke-linejoin="round">A2</text></g>
<g transform="translate(702.00,906.00) rotate(21.50)"><text x="-13.04" y="6.50" font-size="18.90" font-family='"Liberation Sans", sans-serif' textLength="27.16" lengthAdjust="spacingAndGlyphs" fill="#131313" stroke="#131313" stroke-width="0.45">A2</text></g>
<g transform="translate(597.00,1175.00) rotate(21.50)"><text x="-12.04" y="6.50" font-size="18.90" font-family='"Liberation Sans", sans-serif' textLength="25.04" lengthAdjust="spacingAndGlyphs" fill="#fff" stroke="#fff" stroke-width="3.5" stroke-linejoin="round">A1</text></g>
<g transform="translate(597.00,1175.00) rotate(21.50)"><text x="-12.04" y="6.50" font-size="18.90" font-family='"Liberation Sans", sans-serif' textLength="25.04" lengthAdjust="spacingAndGlyphs" fill="#131313" stroke="#131313" stroke-width="0.45">A1</text></g>
<g transform="translate(592.00,1057.00) rotate(21.50)"><text x="-7.02" y="6.50" font-size="18.90" font-family='"Liberation Sans", sans-serif' textLength="13.41" lengthAdjust="spacingAndGlyphs" fill="#fff" stroke="#fff" stroke-width="3.5" stroke-linejoin="round">D</text></g>
<g transform="translate(592.00,1057.00) rotate(21.50)"><text x="-7.02" y="6.50" font-size="18.90" font-family='"Liberation Sans", sans-serif' textLength="13.41" lengthAdjust="spacingAndGlyphs" fill="#131313" stroke="#131313" stroke-width="0.45">D</text></g>
<g transform="translate(739.00,746.00) rotate(-68.56)"><text x="-6.04" y="6.50" font-size="18.90" font-family='"Liberation Sans", sans-serif' textLength="12.07" lengthAdjust="spacingAndGlyphs" fill="#fff" stroke="#fff" stroke-width="3.5" stroke-linejoin="round">A</text></g>
<g transform="translate(739.00,746.00) rotate(-68.56)"><text x="-6.04" y="6.50" font-size="18.90" font-family='"Liberation Sans", sans-serif' textLength="12.07" lengthAdjust="spacingAndGlyphs" fill="#131313" stroke="#131313" stroke-width="0.45">A</text></g>
<g transform="translate(631.00,1012.00) rotate(-68.56)"><text x="-6.04" y="6.50" font-size="18.90" font-family='"Liberation Sans", sans-serif' textLength="12.07" lengthAdjust="spacingAndGlyphs" fill="#fff" stroke="#fff" stroke-width="3.5" stroke-linejoin="round">A</text></g>
<g transform="translate(631.00,1012.00) rotate(-68.56)"><text x="-6.04" y="6.50" font-size="18.90" font-family='"Liberation Sans", sans-serif' textLength="12.07" lengthAdjust="spacingAndGlyphs" fill="#131313" stroke="#131313" stroke-width="0.45">A</text></g>
<g transform="translate(522.50,1300.80) rotate(-68.56)"><text x="-6.04" y="6.50" font-size="18.90" font-family='"Liberation Sans", sans-serif' textLength="12.07" lengthAdjust="spacingAndGlyphs" fill="#fff" stroke="#fff" stroke-width="3.5" stroke-linejoin="round">A</text></g>
<g transform="translate(522.50,1300.80) rotate(-68.56)"><text x="-6.04" y="6.50" font-size="18.90" font-family='"Liberation Sans", sans-serif' textLength="12.07" lengthAdjust="spacingAndGlyphs" fill="#131313" stroke="#131313" stroke-width="0.45">A</text></g>
<line x1="534.00" y1="288.30" x2="544.76" y2="299.06" stroke="#131313" stroke-width="1.5" />
<polygon points="549.00,303.30 540.23,297.93 543.63,294.53" fill="#131313" />
<line x1="880.00" y1="636.70" x2="867.19" y2="624.19" stroke="#131313" stroke-width="1.5" />
<polygon points="862.90,620.00 871.73,625.27 868.38,628.70" fill="#131313" />
<line x1="827.50" y1="745.90" x2="814.75" y2="776.41" stroke="#131313" stroke-width="1.5" />
<polygon points="812.20,782.50 814.23,771.43 818.66,773.28" fill="#131313" />
<line x1="574.00" y1="1401.20" x2="583.58" y2="1375.91" stroke="#131313" stroke-width="1.5" />
<polygon points="585.70,1370.30 584.40,1380.50 579.91,1378.80" fill="#131313" />
<line x1="619.50" y1="643.00" x2="694.22" y2="683.16" stroke="#131313" stroke-width="1.5" />
<polygon points="699.50,686.00 689.56,683.38 691.83,679.15" fill="#131313" />
<line x1="709.00" y1="1146.00" x2="672.62" y2="1115.83" stroke="#131313" stroke-width="1.5" />
<polygon points="668.00,1112.00 677.23,1116.54 674.17,1120.23" fill="#131313" />
<line x1="843.30" y1="571.70" x2="789.00" y2="626.00" stroke="#131313" stroke-width="1.4" stroke-dasharray="4.5,1.8"/>
<line x1="796.60" y1="653.30" x2="867.80" y2="681.40" stroke="#131313" stroke-width="1.4" stroke-dasharray="4.5,1.8"/>
</svg></body></html>
